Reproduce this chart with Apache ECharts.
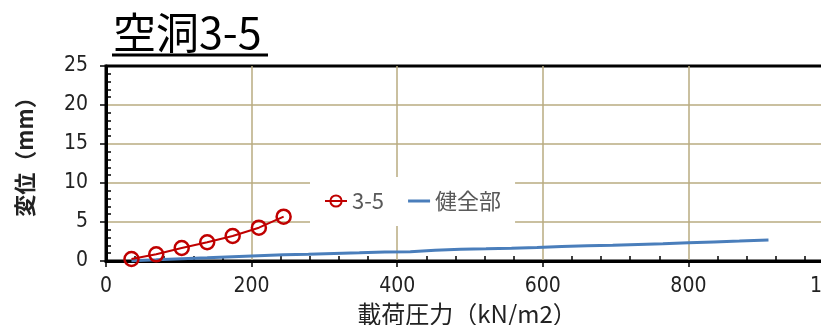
<!DOCTYPE html>
<html>
<head>
<meta charset="utf-8">
<script src="https://cdn.jsdelivr.net/npm/echarts@6/dist/echarts.min.js"></script>
<style>
  html, body { margin: 0; padding: 0; background: #fff; }
  #chart { width: 821px; height: 325px; }
</style>
</head>
<body>
<div id="chart"></div>
<script>
// Load (kN/m2) and displacement (mm) for the cavity test 3-5
const cavityLoad = [35, 69, 104, 139, 174, 210, 244];
const cavityDisp = [0.26, 0.86, 1.67, 2.4, 3.2, 4.27, 5.68];

// Load and displacement for the sound (undamaged) section
const soundLoad = [35, 69, 104, 139, 174, 209, 244, 278, 313, 348, 383, 418, 452,
                   487, 522, 557, 592, 626, 661, 696, 731, 765, 800, 835, 870, 910];
const soundDisp = [0.03, 0.15, 0.3, 0.42, 0.55, 0.68, 0.8, 0.88, 0.97, 1.05, 1.15, 1.2, 1.38,
                   1.5, 1.57, 1.65, 1.74, 1.85, 1.95, 2.03, 2.12, 2.2, 2.33, 2.45, 2.56, 2.69];

const seriesNames = ['3-5', '健全部'];
const titleText = '空洞3-5';
const xName = '載荷圧力（kN/m2）';
const yName = '変位（mm）';

const RED = '#c00000';
const BLUE = '#4a7ebb';
const GRID = '#b8ab80';
const NUM_FONT = "'Liberation Sans Narrow', 'DejaVu Sans Condensed', sans-serif";
const CJK_FONT = "'Noto Sans CJK JP', sans-serif";

const pair = (xs, ys) => xs.map((x, i) => [x, ys[i]]);
const plainNumber = (v) => String(v);

const chart = echarts.init(document.getElementById('chart'), null, { renderer: 'canvas' });

const xBase = { type: 'value', min: 0, max: 1000, interval: 200 };
const yBase = { type: 'value', min: 0, max: 25, interval: 5 };
const gridLines = { show: true, showMinLine: false, showMaxLine: false, lineStyle: { color: GRID, width: 1.5 } };

chart.setOption({
  backgroundColor: '#fff',
  animation: false,
  title: {
    text: titleText,
    left: 108,
    top: 6,
    textStyle: { fontFamily: CJK_FONT, fontSize: 43, fontWeight: 'normal', color: '#000' }
  },
  graphic: [{
    type: 'line',
    shape: { x1: 112, y1: 55, x2: 268, y2: 55 },
    style: { stroke: '#000', lineWidth: 3 }
  }],
  grid: {
    left: 106, top: 66, right: -13, bottom: 64,
    outerBoundsMode: 'none',
    containLabel: false,
    show: true, borderColor: '#000', borderWidth: 3, backgroundColor: 'transparent'
  },
  legend: {
    data: [
      { name: seriesNames[0] },
      { name: seriesNames[1], icon: 'path://M0,0L22,0L22,3L0,3Z' }
    ],
    left: 310, top: 177,
    padding: [13, 14, 14, 14],
    backgroundColor: '#fff',
    itemWidth: 22, itemHeight: 14, itemGap: 24,
    symbolKeepAspect: true,
    textStyle: { fontFamily: CJK_FONT, fontSize: 22, color: '#595959' }
  },
  xAxis: [
    Object.assign({}, xBase, {
      position: 'bottom',
      name: xName,
      nameLocation: 'middle',
      nameGap: 38,
      nameTextStyle: { fontFamily: CJK_FONT, fontSize: 24, color: '#222', padding: [0, 6, 0, 0] },
      axisLine: { show: true, lineStyle: { color: '#000', width: 3 } },
      axisTick: { show: true, length: 6, lineStyle: { color: '#000', width: 1.5 } },
      axisLabel: { margin: 15, fontFamily: NUM_FONT, fontSize: 21, color: '#222', formatter: plainNumber },
      splitLine: gridLines
    }),
    Object.assign({}, xBase, {
      position: 'bottom',
      axisLine: { show: false },
      axisTick: { show: false, inside: true },
      minorTick: { show: true, splitNumber: 5, length: 5, lineStyle: { color: '#000', width: 1.5 } },
      axisLabel: { show: false },
      splitLine: { show: false }
    })
  ],
  yAxis: [
    Object.assign({}, yBase, {
      position: 'left',
      name: yName,
      nameLocation: 'middle',
      nameGap: 70,
      nameTextStyle: { fontFamily: CJK_FONT, fontSize: 22, fontWeight: 'bold', color: '#222', padding: [0, 0, 0, 24] },
      axisLine: { show: true, lineStyle: { color: '#000', width: 3 } },
      axisTick: { show: true, length: 6, lineStyle: { color: '#000', width: 1.5 } },
      axisLabel: { margin: 18, fontFamily: NUM_FONT, fontSize: 21, color: '#222', formatter: plainNumber },
      splitLine: gridLines
    }),
    Object.assign({}, yBase, {
      position: 'left',
      axisLine: { show: false },
      axisTick: { show: false, inside: true },
      minorTick: { show: true, splitNumber: 5, length: 5, lineStyle: { color: '#000', width: 1.5 } },
      axisLabel: { show: false },
      splitLine: { show: false }
    })
  ],
  series: [
    {
      name: seriesNames[1],
      type: 'line',
      data: pair(soundLoad, soundDisp),
      showSymbol: false,
      symbol: 'none',
      color: BLUE,
      lineStyle: { color: BLUE, width: 3 },
      z: 2
    },
    {
      name: seriesNames[0],
      type: 'line',
      data: pair(cavityLoad, cavityDisp),
      symbol: 'circle',
      symbolSize: 14,
      color: RED,
      itemStyle: { color: 'rgba(255,255,255,0)', borderColor: RED, borderWidth: 2.5 },
      lineStyle: { color: RED, width: 2 },
      z: 3
    }
  ]
});
</script>
</body>
</html>
